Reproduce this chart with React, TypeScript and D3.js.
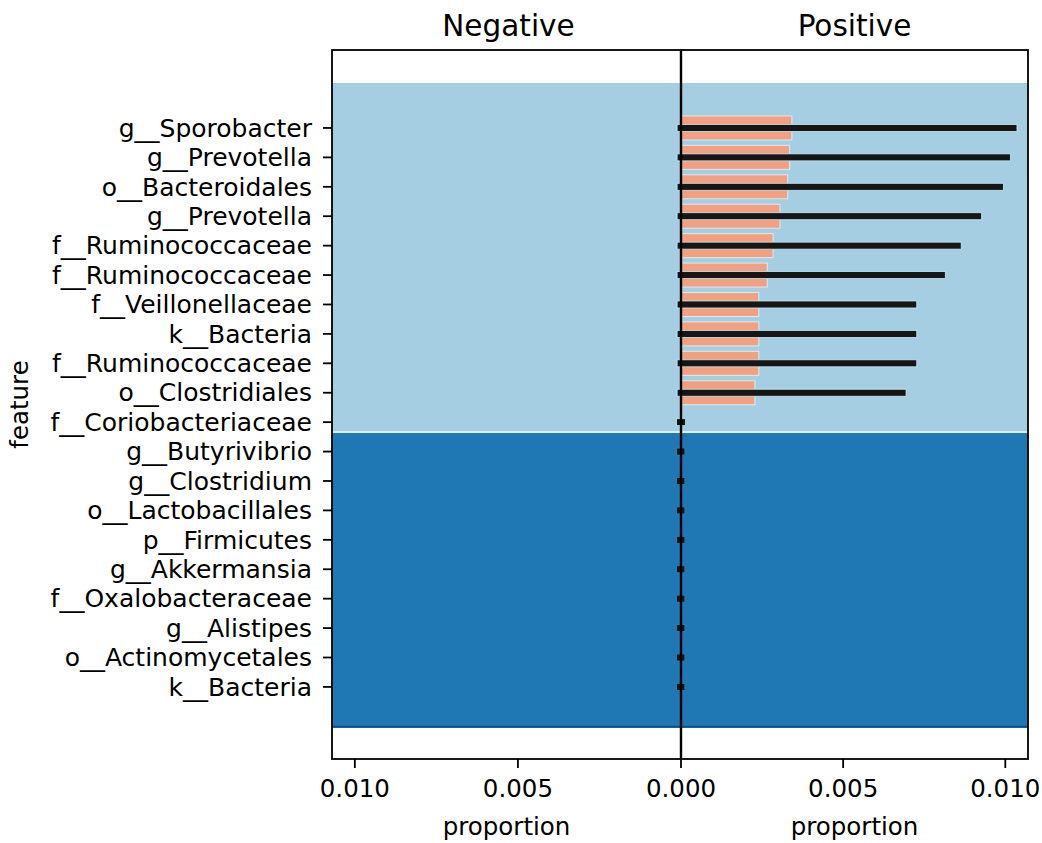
import React from "react";
import * as d3 from "d3";

const features = [
  "g__Sporobacter",
  "g__Prevotella",
  "o__Bacteroidales",
  "g__Prevotella",
  "f__Ruminococcaceae",
  "f__Ruminococcaceae",
  "f__Veillonellaceae",
  "k__Bacteria",
  "f__Ruminococcaceae",
  "o__Clostridiales",
  "f__Coriobacteriaceae",
  "g__Butyrivibrio",
  "g__Clostridium",
  "o__Lactobacillales",
  "p__Firmicutes",
  "g__Akkermansia",
  "f__Oxalobacteraceae",
  "g__Alistipes",
  "o__Actinomycetales",
  "k__Bacteria",
];

// mean proportion (orange bars), positive side
const proportion = [
  0.00342, 0.00335, 0.00329, 0.00305, 0.00284, 0.00266, 0.0024, 0.0024, 0.0024, 0.00228,
  0, 0, 0, 0, 0, 0, 0, 0, 0, 0,
];
// interval (black lines)
const ciLow = [
  -0.00012, -0.00012, -0.00012, -0.00012, -0.00012, -0.00012, -0.00012, -0.00012, -0.00012, -0.00012,
  -0.00014, -0.00014, -0.00014, -0.00014, -0.00014, -0.00014, -0.00014, -0.00014, -0.00014, -0.00014,
];
const ciHigh = [
  0.01036, 0.01016, 0.00994, 0.00927, 0.00864, 0.00815, 0.00727, 0.00727, 0.00727, 0.00694,
  0.00014, 0.00012, 0.00012, 0.00012, 0.00012, 0.00012, 0.00012, 0.00012, 0.00012, 0.00012,
];
// class bands: first 11 features positive-associated (light), rest dark
const bandGroups = [
  { from: -1.53, to: 10.37, color: "#a6cee3" },
  { from: 10.37, to: 20.39, color: "#1f78b4" },
];
const tickValues = [0, 0.005, 0.01];

const W = 1042;
const H = 843;
const top = 50;
const bottom = 759;
const leftX = 332;
const midX = 681;
const rightX = 1028;
const font = "DejaVu Sans, sans-serif";

export default function App() {
  const y = d3.scaleLinear().domain([-2.65, 21.45]).range([top, bottom]);
  const xR = d3.scaleLinear().domain([0, 0.0107]).range([midX, rightX]);
  const xL = d3.scaleLinear().domain([0.0107, 0]).range([leftX, midX]);

  return (
    <svg width={W} height={H} style={{ position: "absolute", left: 0, top: 0 }} fontFamily={font}>
      <rect x={0} y={0} width={W} height={H} fill="#fff" />
      {/* bands */}
      {bandGroups.map((b, i) => (
        <g key={i}>
          <rect x={leftX} y={y(b.from)} width={rightX - leftX} height={y(b.to) - y(b.from)} fill={b.color} />
          <line
            x1={leftX}
            x2={rightX}
            y1={y(b.to) - 1}
            y2={y(b.to) - 1}
            stroke={i === 0 ? "#d6f0fa" : "#0d4f86"}
            strokeWidth={2}
          />
        </g>
      ))}
      {/* orange bars */}
      {features.map((f, i) =>
        proportion[i] > 0 ? (
          <rect
            key={"b" + i}
            x={xR(0)}
            y={y(i) - 12}
            width={xR(proportion[i]) - xR(0)}
            height={24}
            fill="#f2a07f"
            stroke="#d4eef8"
            strokeWidth={1}
          />
        ) : null
      )}
      {/* intervals */}
      {features.map((f, i) => (
        <rect
          key={"c" + i}
          x={xR(ciLow[i])}
          y={y(i) - 3.5}
          width={xR(ciHigh[i]) - xR(ciLow[i])}
          height={7}
          fill="#161616"
          stroke={i < 11 ? "#c8eaf6" : "#3a7fb8"}
          strokeWidth={0.8}
        />
      ))}
      {/* frame */}
      <rect x={leftX} y={top} width={rightX - leftX} height={bottom - top} fill="none" stroke="#000" strokeWidth={1.8} />
      <line x1={midX} x2={midX} y1={top} y2={bottom} stroke="#000" strokeWidth={2.4} />
      {/* y ticks and labels */}
      {features.map((f, i) => (
        <g key={"l" + i}>
          <line x1={leftX - 9} x2={leftX} y1={y(i)} y2={y(i)} stroke="#000" strokeWidth={1.8} />
          <text x={leftX - 20} y={y(i)} dy="0.35em" textAnchor="end" fontSize={25} fill="#000">
            {f}
          </text>
        </g>
      ))}
      {/* x ticks */}
      {tickValues.map((t, i) => (
        <g key={"tl" + i}>
          <line x1={xL(t)} x2={xL(t)} y1={bottom} y2={bottom + 9} stroke="#000" strokeWidth={1.8} />
          <text x={xL(t)} y={797} textAnchor="middle" fontSize={24.5} fill="#000">
            {d3.format(".3f")(t)}
          </text>
        </g>
      ))}
      {tickValues.slice(1).map((t, i) => (
        <g key={"tr" + i}>
          <line x1={xR(t)} x2={xR(t)} y1={bottom} y2={bottom + 9} stroke="#000" strokeWidth={1.8} />
          <text x={xR(t)} y={797} textAnchor="middle" fontSize={24.5} fill="#000">
            {d3.format(".3f")(t)}
          </text>
        </g>
      ))}
      <text x={(leftX + midX) / 2} y={835} textAnchor="middle" fontSize={24.5} fill="#000">
        proportion
      </text>
      <text x={(midX + rightX) / 2} y={835} textAnchor="middle" fontSize={24.5} fill="#000">
        proportion
      </text>
      {/* titles */}
      <text x={(leftX + midX) / 2 + 2} y={36} textAnchor="middle" fontSize={29.5} fill="#000">
        Negative
      </text>
      <text x={(midX + rightX) / 2} y={36} textAnchor="middle" fontSize={29.5} fill="#000">
        Positive
      </text>
      <text transform={`translate(28, ${(top + bottom) / 2}) rotate(-90)`} textAnchor="middle" fontSize={24.5} fill="#000">
        feature
      </text>
    </svg>
  );
}
